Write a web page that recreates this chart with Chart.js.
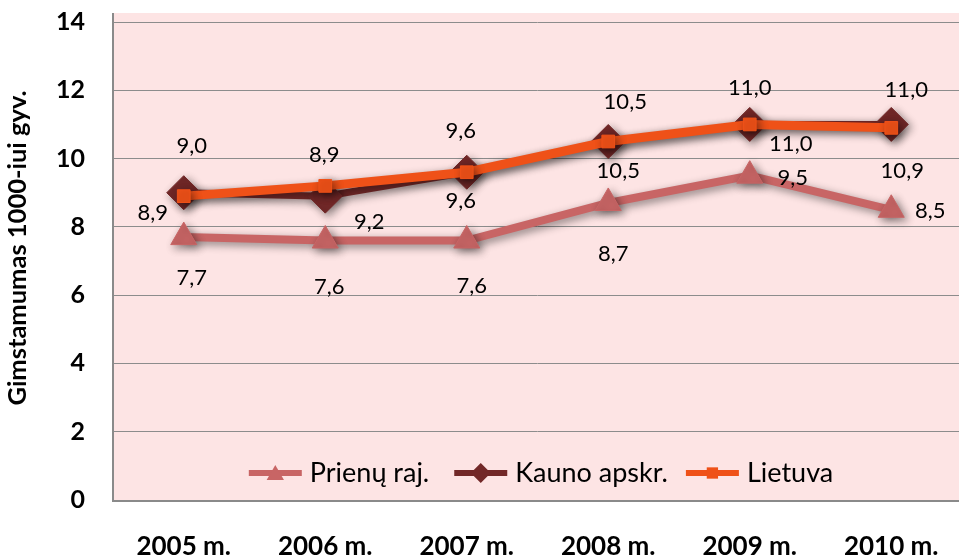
<!DOCTYPE html>
<html>
<head>
<meta charset="utf-8">
<script src="https://cdn.jsdelivr.net/npm/chart.js@4.4.1/dist/chart.umd.min.js"></script>
<style>
  html, body { margin: 0; padding: 0; background: #ffffff; overflow: hidden; width: 959px; height: 556px; }
  #c { position: absolute; left: 0; top: 0; }
</style>
</head>
<body>
<canvas id="c" width="980" height="556"></canvas>
<script>
// ---- data ----
const categories = ['2005 m.', '2006 m.', '2007 m.', '2008 m.', '2009 m.', '2010 m.'];
const prienuRaj = [7.7, 7.6, 7.6, 8.7, 9.5, 8.5];
const kaunoApskr = [9.0, 8.9, 9.6, 10.5, 11.0, 11.0];
const lietuva = [8.9, 9.2, 9.6, 10.5, 11.0, 10.9];
const seriesNames = ['Prienų raj.', 'Kauno apskr.', 'Lietuva'];
const yTicks = [0, 2, 4, 6, 8, 10, 12, 14];
const yTitle = 'Gimstamumas 1000-iui gyv.';

const FONT = 'Lato, "Open Sans", "DejaVu Sans", sans-serif';

// label offsets (style only): [dx, dy] relative to each point
const labelOffsets = [
  [[8, 41], [4, 46], [5, 45], [5, 51], [43, 2], [39, 1]],
  [[8, -47], [-1, -41], [-6, -41], [17, -40], [0, -37], [15, -35]],
  [[-31, 17], [44, 36], [-6, 29], [10, 29], [41, 19], [11, 43]]
];

const bgPlugin = {
  id: 'bg',
  beforeDraw(chart) {
    const { ctx, chartArea: a } = chart;
    ctx.save();
    ctx.fillStyle = '#ffffff';
    ctx.fillRect(0, 0, chart.width, chart.height);
    ctx.fillStyle = 'rgb(253,228,228)';
    ctx.fillRect(a.left, a.top - 9, a.right - a.left, a.bottom - a.top + 9);
    ctx.restore();
  },
  beforeDatasetsDraw(chart) {
    const { ctx, chartArea: a } = chart;
    ctx.save();
    ctx.strokeStyle = '#8a8a8a';
    ctx.lineWidth = 2;
    ctx.beginPath();
    ctx.moveTo(a.left, a.top - 9);
    ctx.lineTo(a.left, a.bottom + 1);
    ctx.lineTo(a.right, a.bottom + 1);
    ctx.stroke();
    ctx.restore();
    // y title
    ctx.save();
    ctx.translate(18, 248);
    ctx.rotate(-Math.PI / 2);
    ctx.font = 'bold 25.5px ' + FONT;
    ctx.fillStyle = '#000';
    ctx.textAlign = 'center';
    ctx.textBaseline = 'middle';
    ctx.fillText(yTitle, 0, 0);
    ctx.restore();
  }
};

const shadowPlugin = {
  id: 'shadow',
  beforeDatasetDraw(chart) {
    const ctx = chart.ctx;
    ctx.save();
    ctx.shadowColor = 'rgba(0,0,0,0.45)';
    ctx.shadowBlur = 8;
    ctx.shadowOffsetX = 3;
    ctx.shadowOffsetY = 3;
  },
  afterDatasetDraw(chart) {
    chart.ctx.restore();
  }
};

const labelPlugin = {
  id: 'valueLabels',
  afterDatasetsDraw(chart) {
    const ctx = chart.ctx;
    ctx.save();
    ctx.font = '22px ' + FONT;
    ctx.fillStyle = '#000';
    ctx.textAlign = 'center';
    ctx.textBaseline = 'middle';
    chart.data.datasets.forEach((ds, di) => {
      const meta = chart.getDatasetMeta(di);
      meta.data.forEach((pt, i) => {
        const off = labelOffsets[di][i];
        const txt = ds.data[i].toFixed(1).replace('.', ',');
        ctx.fillText(txt, pt.x + off[0], pt.y + off[1]);
      });
    });
    ctx.restore();
  }
};

function drawMarker(ctx, style, x, y, r, color) {
  ctx.fillStyle = color;
  ctx.beginPath();
  if (style === 'triangle') {
    ctx.moveTo(x, y - r);
    ctx.lineTo(x + 0.866 * r, y + 0.5 * r);
    ctx.lineTo(x - 0.866 * r, y + 0.5 * r);
  } else if (style === 'rectRot') {
    ctx.moveTo(x - r, y);
    ctx.lineTo(x, y - r);
    ctx.lineTo(x + r, y);
    ctx.lineTo(x, y + r);
  } else {
    const s = r * 0.707;
    ctx.rect(x - s, y - s, 2 * s, 2 * s);
  }
  ctx.closePath();
  ctx.fill();
}

const legendPlugin = {
  id: 'innerLegend',
  afterDraw(chart) {
    const { ctx, chartArea: a } = chart;
    ctx.save();
    ctx.font = '27px ' + FONT;
    const lineLen = 53, gapAfterLine = 8, gaps = [25, 18];
    const items = chart.data.datasets.map(ds => ({
      ds, w: ctx.measureText(ds.label).width
    }));
    let total = 0;
    items.forEach((it, i) => { total += lineLen + gapAfterLine + it.w + (i < items.length - 1 ? gaps[i] : 0); });
    let x = (a.left + a.right) / 2 - total / 2 + 3.5;
    const y = 473;
    const mr = [10, 10, 8];
    items.forEach((it, i) => {
      ctx.strokeStyle = it.ds.borderColor;
      ctx.lineWidth = 6;
      ctx.beginPath();
      ctx.moveTo(x, y);
      ctx.lineTo(x + lineLen, y);
      ctx.stroke();
      drawMarker(ctx, it.ds.pointStyle, x + lineLen / 2, y + (it.ds.pointStyle === 'triangle' ? 2 : 0), mr[i], it.ds.borderColor);
      ctx.fillStyle = '#000';
      ctx.textAlign = 'left';
      ctx.textBaseline = 'middle';
      ctx.fillText(it.ds.label, x + lineLen + gapAfterLine, y);
      x += lineLen + gapAfterLine + it.w + (gaps[i] || 0);
    });
    ctx.restore();
  }
};

new Chart(document.getElementById('c'), {
  type: 'line',
  data: {
    labels: categories,
    datasets: [
      {
        label: seriesNames[0], data: prienuRaj, order: 3,
        borderColor: '#c86565', backgroundColor: '#c86565',
        borderWidth: 8, pointStyle: 'triangle', pointRadius: 15,
        pointBorderWidth: 1, pointHoverRadius: 15
      },
      {
        label: seriesNames[1], data: kaunoApskr, order: 2,
        borderColor: '#722828', backgroundColor: '#722828',
        borderWidth: 7, pointStyle: 'rectRot', pointRadius: 17,
        pointBorderWidth: 1, pointHoverRadius: 17
      },
      {
        label: seriesNames[2], data: lietuva, order: 1,
        borderColor: '#ef5118', backgroundColor: '#ef5118',
        borderWidth: 9, pointStyle: 'rect', pointRadius: 9,
        pointBorderWidth: 1, pointHoverRadius: 9
      }
    ]
  },
  options: {
    responsive: false,
    animation: false,
    devicePixelRatio: 1,
    layout: { padding: { top: 22, right: 5, left: 0, bottom: 0 } },
    plugins: {
      legend: { display: false },
      tooltip: { enabled: false }
    },
    elements: { line: { tension: 0 } },
    scales: {
      x: {
        offset: true,
        grid: { display: false, drawTicks: false },
        border: { display: false },
        ticks: {
          color: '#000', padding: 31, maxRotation: 0,
          font: { family: FONT, size: 26, weight: 'bold' }
        },
        afterFit(scale) { scale.height = 56; scale.paddingLeft = 0; scale.paddingRight = 0; }
      },
      y: {
        min: 0, max: 14,
        afterBuildTicks(scale) { scale.ticks = yTicks.map(v => ({ value: v })); },
        grid: { color: '#8c8c8c', lineWidth: 1, drawTicks: false },
        border: { display: false },
        ticks: {
          color: '#000', padding: 28,
          font: { family: FONT, size: 25, weight: 'bold' }
        },
        afterFit(scale) { scale.width = 113; scale.paddingTop = 0; scale.paddingBottom = 0; }
      }
    }
  },
  plugins: [bgPlugin, shadowPlugin, labelPlugin, legendPlugin]
});
</script>
</body>
</html>
